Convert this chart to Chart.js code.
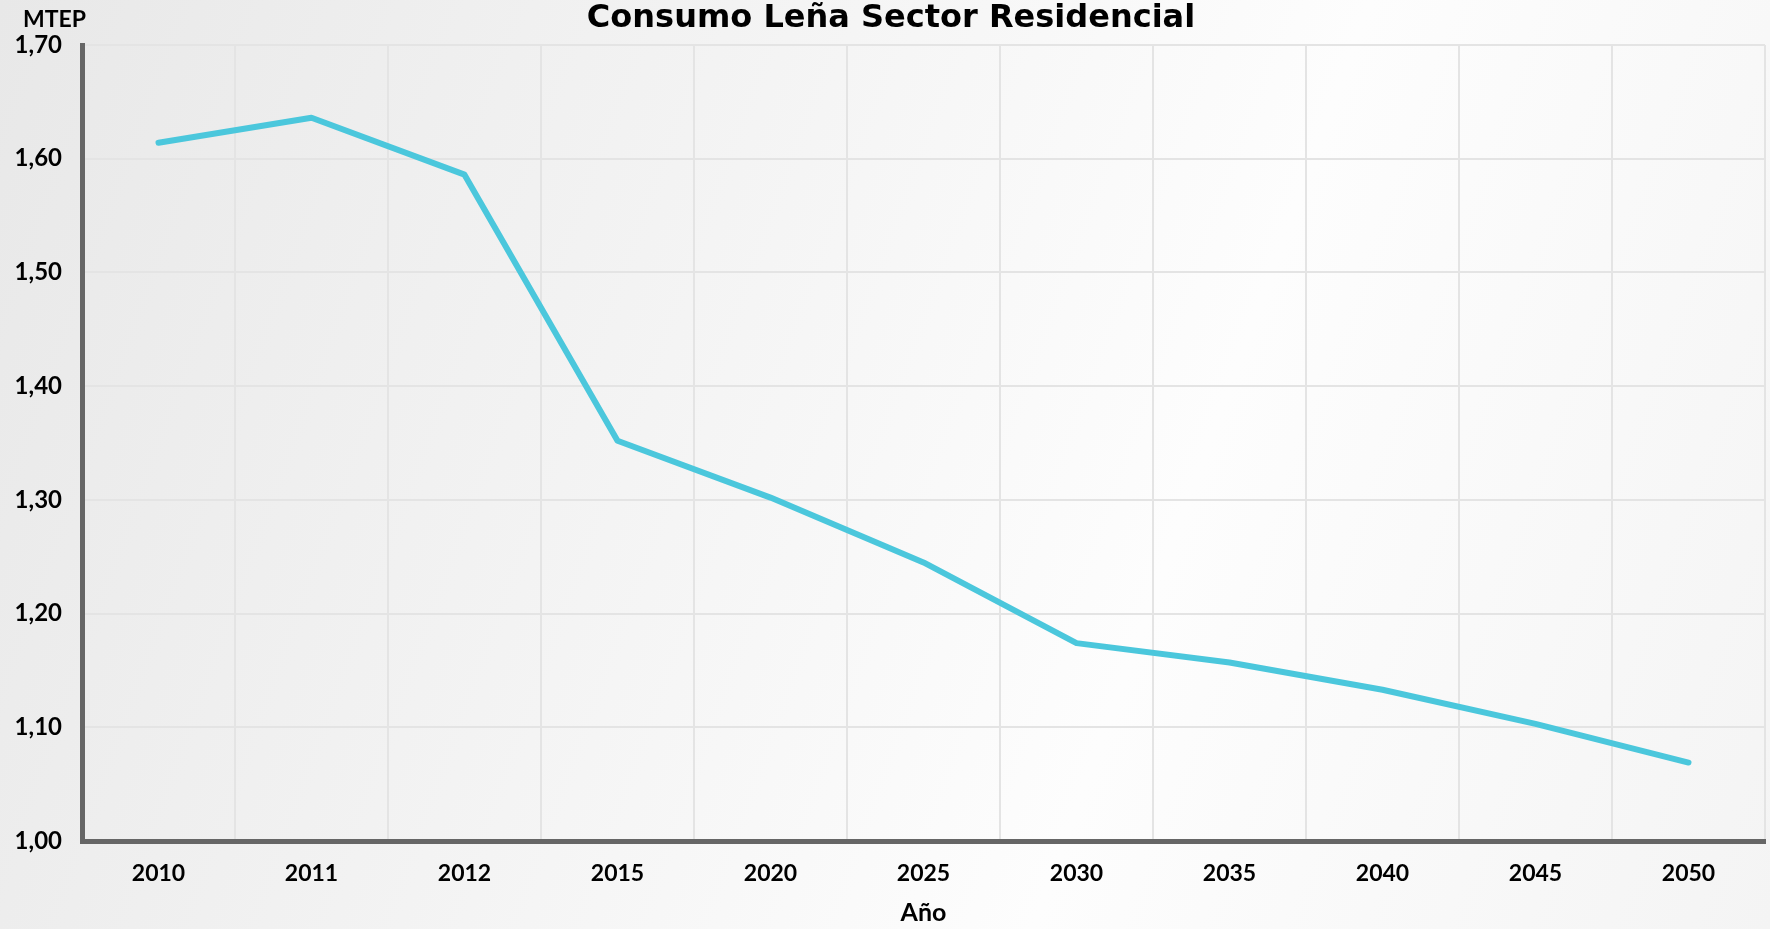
<!DOCTYPE html>
<html>
<head>
<meta charset="utf-8">
<script src="https://cdn.jsdelivr.net/npm/chart.js@4.4.1/dist/chart.umd.min.js"></script>
<style>
  html, body {
    margin: 0;
    padding: 0;
    width: 1770px;
    height: 929px;
    overflow: hidden;
    background: linear-gradient(110deg, #e8e8e8 0%, #f3f3f3 35%, #fdfdfd 65%, #f4f4f4 100%);
  }
  #chart {
    display: block;
  }
</style>
</head>
<body>
<canvas id="chart" width="1770" height="929"></canvas>
<script>
const years = ["2010", "2011", "2012", "2015", "2020", "2025", "2030", "2035", "2040", "2045", "2050"];
const consumo = [1.614, 1.636, 1.586, 1.352, 1.302, 1.245, 1.174, 1.157, 1.133, 1.103, 1.069];
const yMin = 1.0;
const yMax = 1.7;
const yStep = 0.1;

const chartTitle = "Consumo Leña Sector Residencial";
const unitLabel = "MTEP";
const xAxisLabel = "Año";

const FONT = "Lato, 'DejaVu Sans', sans-serif";
const TITLE_FONT = "'DejaVu Sans', sans-serif";

function formatTick(value) {
  return Number(value).toFixed(2).replace(".", ",");
}

// titulo y unidad dibujados a mano, como en la figura original
const headerText = {
  id: "headerText",
  afterDraw(chart) {
    const ctx = chart.ctx;
    ctx.save();
    ctx.fillStyle = "#000";
    ctx.textBaseline = "alphabetic";
    ctx.font = "bold 32px " + TITLE_FONT;
    ctx.textAlign = "center";
    ctx.fillText(chartTitle, 891, 27);
    ctx.font = "bold 23px " + FONT;
    ctx.textAlign = "left";
    ctx.fillText(unitLabel, 23, 27);
    ctx.restore();
  }
};

new Chart(document.getElementById("chart"), {
  type: "line",
  data: {
    labels: years,
    datasets: [
      {
        label: "Consumo",
        data: consumo,
        borderColor: "#4bc7dc",
        borderWidth: 6,
        pointRadius: 0,
        tension: 0,
        borderCapStyle: "round",
        borderJoinStyle: "round"
      }
    ]
  },
  options: {
    responsive: false,
    animation: false,
    layout: {
      padding: { top: 45, right: 5, left: 0, bottom: 0 }
    },
    plugins: {
      legend: { display: false },
      title: { display: false },
      tooltip: { enabled: false }
    },
    scales: {
      x: {
        offset: true,
        grid: {
          offset: true,
          color: "#e4e4e4",
          lineWidth: 2,
          drawTicks: false
        },
        border: { color: "#666666", width: 5 },
        ticks: {
          color: "#000",
          padding: 19,
          font: { family: FONT, size: 23, weight: "bold" }
        },
        title: {
          display: true,
          text: xAxisLabel,
          color: "#000",
          padding: { top: 0, bottom: 1 },
          font: { family: FONT, size: 25, weight: "bold" }
        },
        afterFit(scale) {
          scale.height = 88;
        }
      },
      y: {
        min: yMin,
        max: yMax,
        grid: {
          color: "#e4e4e4",
          lineWidth: 2,
          drawTicks: false
        },
        border: { color: "#666666", width: 5 },
        ticks: {
          stepSize: yStep,
          color: "#000",
          padding: 20,
          font: { family: FONT, size: 24, weight: "bold" },
          callback: value => formatTick(value)
        },
        afterFit(scale) {
          scale.width = 82;
        }
      }
    }
  },
  plugins: [headerText]
});
</script>
</body>
</html>
